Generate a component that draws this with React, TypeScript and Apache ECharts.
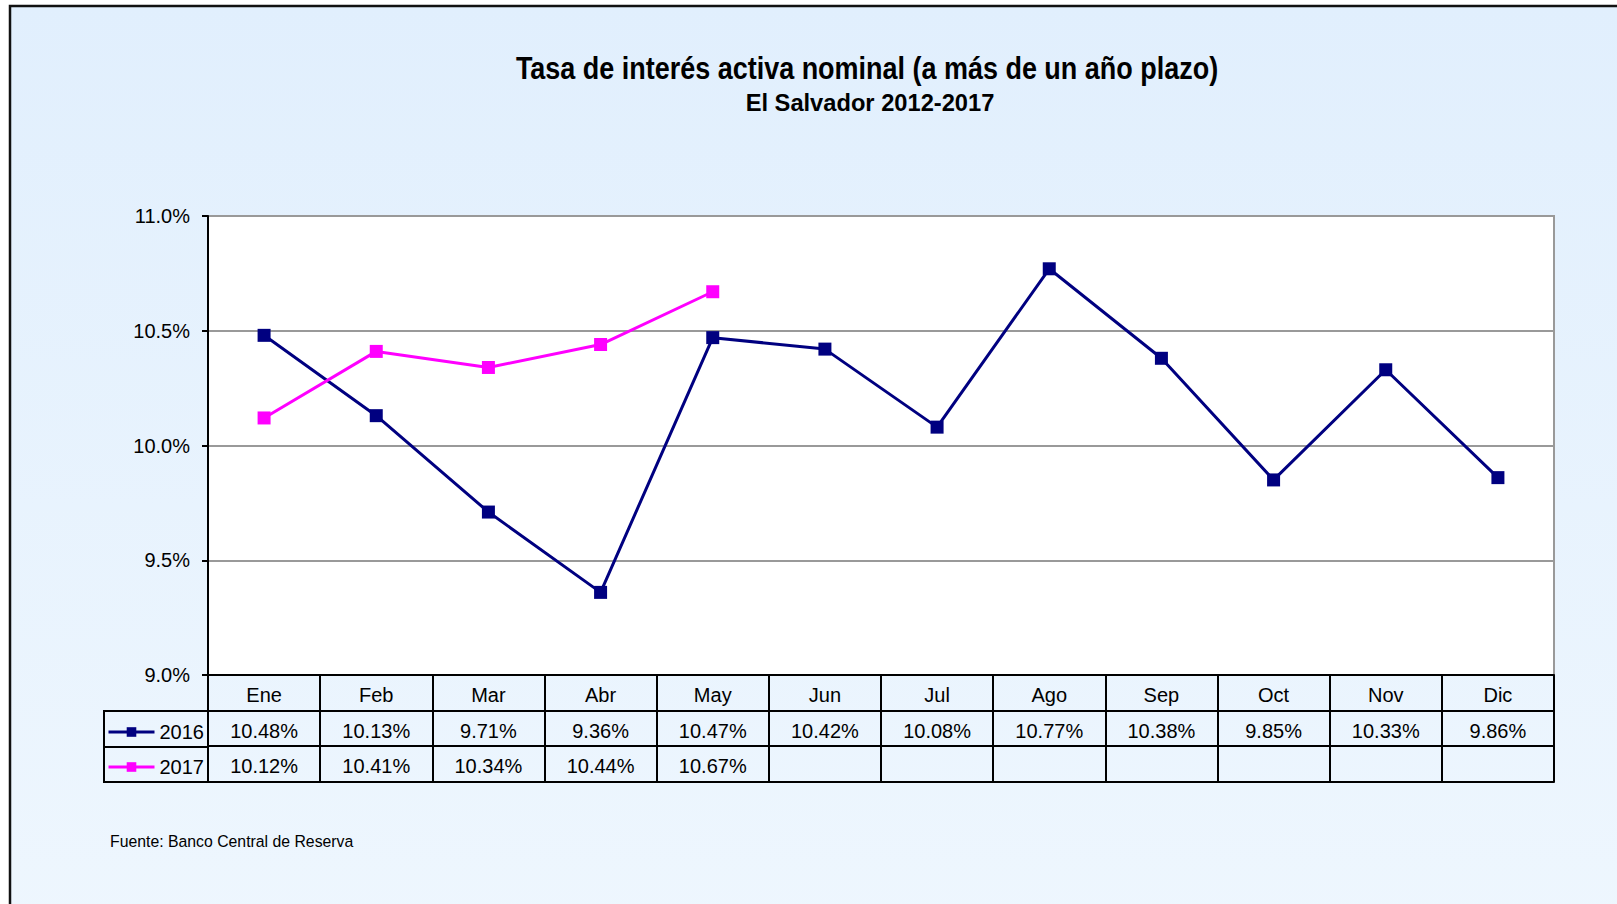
import React, { useEffect, useRef } from "react";
import * as echarts from "echarts";

const months = ["Ene", "Feb", "Mar", "Abr", "May", "Jun", "Jul", "Ago", "Sep", "Oct", "Nov", "Dic"];
const values2016 = [10.48, 10.13, 9.71, 9.36, 10.47, 10.42, 10.08, 10.77, 10.38, 9.85, 10.33, 9.86];
const values2017: (number | null)[] = [10.12, 10.41, 10.34, 10.44, 10.67, null, null, null, null, null, null, null];
const yTicks = { min: 9, max: 11, interval: 0.5 };
const titleText = "Tasa de interés activa nominal (a más de un año plazo)";
const subtitleText = "El Salvador 2012-2017";
const sourceText = "Fuente: Banco Central de Reserva";

const NAVY = "#000080";
const MAGENTA = "#ff00ff";
const REG = "'Liberation Sans', Arial, sans-serif";

const fmtPct = (v: number | null) => (v == null ? "" : v.toFixed(2) + "%");

export default function App() {
  const ref = useRef<HTMLDivElement>(null);
  useEffect(() => {
    if (!ref.current) return;
    const chart = echarts.init(ref.current, undefined, { renderer: "svg" });
    const rowAxis = (offset: number, formatter: any, ticks: boolean) => ({
      type: "category",
      data: months,
      position: "bottom",
      offset,
      boundaryGap: true,
      axisLine: { show: true, lineStyle: { color: "#000", width: 2 } },
      axisTick: { show: ticks, interval: 0, length: 36, lineStyle: { color: "#000", width: 2 } },
      axisLabel: {
        show: !!formatter,
        interval: 0,
        margin: 10,
        color: "#000",
        fontFamily: REG,
        fontSize: 20,
        formatter: formatter || undefined,
      },
      splitLine: { show: false },
    });
    chart.setOption({
      animation: false,
      grid: {
        left: 208,
        right: 63,
        top: 216,
        bottom: 229,
        show: true,
        backgroundColor: "#ffffff",
        borderColor: "#999999",
        borderWidth: 2,
        containLabel: false,
        outerBoundsMode: "none",
      },
      graphic: [
        {
          type: "rect",
          z: -100,
          silent: true,
          shape: { x: 10, y: 6, width: 1700, height: 1000 },
          style: {
            fill: new echarts.graphic.LinearGradient(0, 0, 0, 1, [
              { offset: 0, color: "#e1effd" },
              { offset: 1, color: "#eff7fe" },
            ]),
            stroke: "#111",
            lineWidth: 2.5,
          },
        },
        {
          type: "rect",
          z: 10,
          silent: true,
          shape: { x: 104, y: 711, width: 104, height: 71 },
          style: { fill: "none", stroke: "#000", lineWidth: 2 },
        },
        {
          type: "line",
          z: 10,
          silent: true,
          shape: { x1: 104, y1: 747, x2: 208, y2: 747 },
          style: { stroke: "#000", lineWidth: 2 },
        },
        {
          type: "text",
          x: 867,
          y: 68,
          scaleX: 0.87,
          style: {
            text: titleText,
            font: `bold 31px ${REG}`,
            fill: "#000",
            align: "center",
            verticalAlign: "middle",
          },
        },
        {
          type: "text",
          x: 870,
          y: 103,
          scaleX: 1.03,
          style: {
            text: subtitleText,
            font: `bold 23px ${REG}`,
            fill: "#000",
            align: "center",
            verticalAlign: "middle",
          },
        },
        {
          type: "text",
          x: 110,
          y: 841,
          scaleX: 0.93,
          style: {
            text: sourceText,
            font: `17px ${REG}`,
            fill: "#000",
            align: "left",
            verticalAlign: "middle",
          },
        },
      ],
      legend: {
        show: true,
        orient: "vertical",
        left: 107,
        top: 722,
        padding: 0,
        itemWidth: 46,
        itemHeight: 12,
        itemGap: 15,
        lineStyle: { width: 3 },
        textStyle: { color: "#000", fontFamily: REG, fontSize: 20, lineHeight: 20 },
        data: ["2016", "2017"],
      },
      xAxis: [
        rowAxis(0, (v: string) => v, true),
        rowAxis(36, (_v: string, i: number) => fmtPct(values2016[i]), true),
        rowAxis(71, (_v: string, i: number) => fmtPct(values2017[i]), true),
        rowAxis(107, null, false),
      ],
      yAxis: {
        type: "value",
        min: yTicks.min,
        max: yTicks.max,
        interval: yTicks.interval,
        axisLine: { show: true, lineStyle: { color: "#000", width: 2 } },
        axisTick: { show: true, length: 6, lineStyle: { color: "#000", width: 2 } },
        axisLabel: {
          margin: 18,
          color: "#000",
          fontFamily: REG,
          fontSize: 20,
          formatter: (v: number) => v.toFixed(1) + "%",
        },
        splitLine: { show: true, lineStyle: { color: "#999999", width: 2 } },
      },
      series: [
        {
          name: "2016",
          type: "line",
          data: values2016,
          xAxisIndex: 0,
          yAxisIndex: 0,
          symbol: "rect",
          symbolSize: 13,
          lineStyle: { color: NAVY, width: 3 },
          itemStyle: { color: NAVY },
          z: 3,
        },
        {
          name: "2017",
          type: "line",
          data: values2017,
          xAxisIndex: 0,
          yAxisIndex: 0,
          symbol: "rect",
          symbolSize: 13,
          lineStyle: { color: MAGENTA, width: 3 },
          itemStyle: { color: MAGENTA },
          z: 4,
        },
      ],
    });
    return () => chart.dispose();
  }, []);
  return (
    <div
      ref={ref}
      style={{ position: "absolute", left: 0, top: 0, width: 1617, height: 904, background: "#fff" }}
    />
  );
}
